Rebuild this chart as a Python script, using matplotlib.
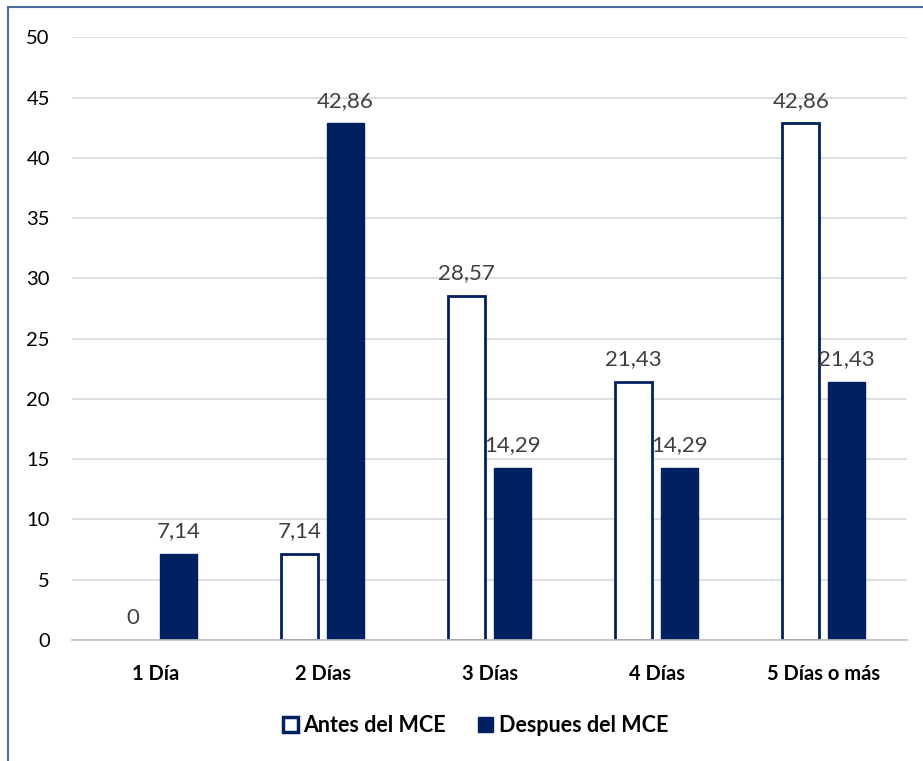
import numpy as np
import matplotlib.pyplot as plt
from matplotlib.lines import Line2D
from matplotlib.patches import Patch

categorias = ["1 Día", "2 Días", "3 Días", "4 Días", "5 Días o más"]
antes = [0, 7.14, 28.57, 21.43, 42.86]
despues = [7.14, 42.86, 14.29, 14.29, 21.43]
series = ["Antes del MCE", "Despues del MCE"]

azul = "#002060"
plt.rcParams['font.family'] = ['Lato', 'DejaVu Sans']

fig = plt.figure(figsize=(9.23, 7.61), dpi=100)
ax = fig.add_axes([0.078, 0.159, 0.905, 0.792])

x = np.arange(len(categorias))
w = 0.22
gap = 0.055
b1 = ax.bar(x - (w + gap) / 2, antes, w, facecolor="white", edgecolor=azul,
            linewidth=[2 if v > 0 else 0 for v in antes])
b2 = ax.bar(x + (w + gap) / 2, despues, w, facecolor=azul, edgecolor=azul, linewidth=1)

def fmt(v):
    return "0" if v == 0 else f"{v:.2f}".replace(".", ",")

for bars, vals in ((b1, antes), (b2, despues)):
    for r, v in zip(bars, vals):
        ax.annotate(fmt(v), (r.get_x() + r.get_width() / 2, v), xytext=(0, 9),
                    textcoords="offset points", ha="center", va="bottom",
                    fontsize=16, color="#404040")

ax.set_ylim(0, 50)
ax.set_xlim(-0.5, len(categorias) - 0.5)
ax.set_yticks(range(0, 51, 5))
ax.yaxis.grid(True, color="#d9d9d9", linewidth=1.2)
ax.set_axisbelow(True)
for s in ("top", "right", "left"):
    ax.spines[s].set_visible(False)
ax.spines["bottom"].set_color("#bfbfbf")
ax.spines["bottom"].set_linewidth(1.2)
ax.tick_params(axis="both", length=0, labelsize=14.5)
ax.tick_params(axis="y", pad=16, labelcolor="#000000")
ax.set_xticks(x)
ax.set_xticklabels(categorias, fontweight="bold", fontsize=14.5)
ax.tick_params(axis="x", pad=17)

handles = [Patch(facecolor="white", edgecolor=azul, linewidth=2.5),
           Patch(facecolor=azul, edgecolor=azul)]
leg = fig.legend(handles, series, loc="center", bbox_to_anchor=(0.515, 0.047),
                 ncol=2, frameon=False, handlelength=0.7, handleheight=0.7,
                 handletextpad=0.25, columnspacing=1.5,
                 prop={"weight": "bold", "size": 15.5})

# marco exterior
fig.add_artist(Line2D([0.0087, 0.0087], [0, 0.991], color="#4a6aa0", linewidth=1.5,
                      transform=fig.transFigure))
fig.add_artist(Line2D([0.0087, 1], [0.991, 0.991], color="#4a6aa0", linewidth=1.5,
                      transform=fig.transFigure))

fig.savefig("out.png", dpi=100)
